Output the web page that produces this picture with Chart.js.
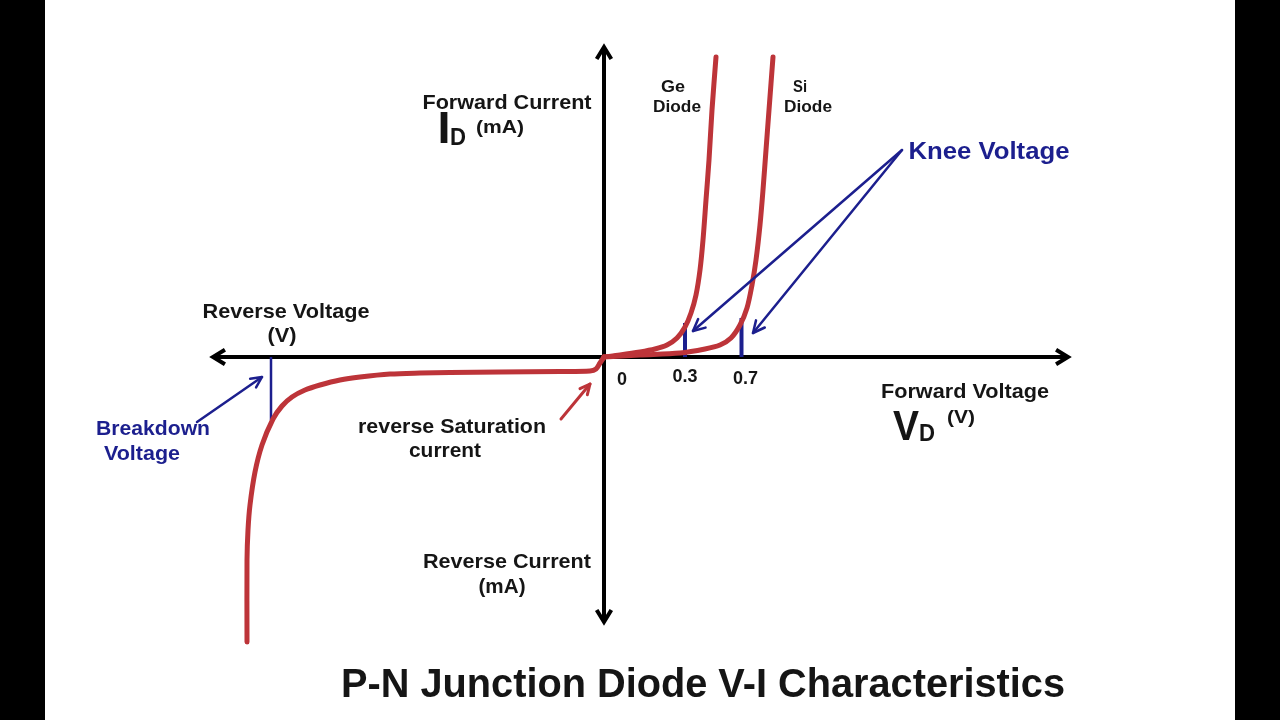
<!DOCTYPE html>
<html><head><meta charset="utf-8">
<script src="https://cdn.jsdelivr.net/npm/chart.js@4/dist/chart.umd.min.js"></script>
<style>html,body{margin:0;padding:0;background:#fff;overflow:hidden}canvas{display:block}</style>
</head><body>
<canvas id="c" width="1280" height="720"></canvas>
<script>
// Schematic units (1 unit = 10 px on this drawing), origin at the axes crossing
const reverseV = [0, -0.4, -0.8, -1.4, -4.4, -10.4, -15.4, -18.4, -21.4, -24.4, -26.4, -28.4, -29.9, -31.2, -32.2, -33.1, -34.2, -34.9, -35.4, -35.6, -35.7, -35.7];
const reverseI = [0, -0.6, -1.2, -1.4, -1.45, -1.5, -1.55, -1.6, -1.7, -2.0, -2.3, -2.8, -3.3, -4.0, -4.9, -6.2, -8.8, -11.5, -14.8, -17.3, -20.3, -28.5];
const geV = [0, 1.6, 3.6, 5.1, 6.3, 7.3, 8.1, 8.7, 9.2, 9.6, 9.9, 10.2, 10.5, 10.8, 11.2];
const geI = [0, 0.2, 0.5, 0.8, 1.2, 1.9, 3.0, 4.4, 6.2, 8.7, 11.7, 15.7, 19.7, 24.7, 30.0];
const siV = [0, 3.6, 7.6, 10.1, 11.6, 12.7, 13.6, 14.3, 14.8, 15.2, 15.6, 15.9, 16.2, 16.5, 16.9];
const siI = [0, 0.2, 0.4, 0.8, 1.2, 1.9, 3.2, 4.9, 7.2, 9.7, 13.2, 16.7, 20.7, 24.7, 30.0];
const kneePos = [8.1, 13.75];
const kneeTop = [3.4, 3.9];
const breakdownPos = -33.3;
const breakdownBottom = -6.3;
const tickLabels = ['0', '0.3', '0.7'];
const tickPos = [0, 8.1, 13.75];

const RED = '#bd3439', BLUE = '#1c1f8e', INK = '#151515';
const FONT = '"Liberation Sans", Arial, sans-serif';

function pts(xs, ys) { return xs.map((x, i) => ({ x, y: ys[i] })); }

const datasets = [
  { data: pts(reverseV, reverseI), borderColor: RED, borderWidth: 5, tension: 0.3, showLine: true, pointRadius: 0, borderCapStyle: 'round' },
  { data: pts(geV, geI), borderColor: RED, borderWidth: 5, tension: 0.3, showLine: true, pointRadius: 0, borderCapStyle: 'round' },
  { data: pts(siV, siI), borderColor: RED, borderWidth: 5, tension: 0.3, showLine: true, pointRadius: 0, borderCapStyle: 'round' },
];
kneePos.forEach((k, i) => datasets.push({ data: [{ x: k, y: 0 }, { x: k, y: kneeTop[i] }], borderColor: BLUE, borderWidth: 4, showLine: true, pointRadius: 0 }));
datasets.push({ data: [{ x: breakdownPos, y: 0 }, { x: breakdownPos, y: breakdownBottom }], borderColor: BLUE, borderWidth: 2.5, showLine: true, pointRadius: 0 });

function fitText(ctx, txt, cx, cy, w, size, color, family) {
  ctx.font = 'bold ' + size + 'px ' + (family || FONT);
  const m = ctx.measureText(txt).width;
  const sx = w ? w / m : 1;
  ctx.save(); ctx.translate(cx, cy); ctx.scale(sx, 1);
  ctx.textAlign = 'center'; ctx.textBaseline = 'middle'; ctx.fillStyle = color;
  ctx.fillText(txt, 0, 0); ctx.restore();
}
function head(ctx, x1, y1, x2, y2, len, spread) {
  const a = Math.atan2(y2 - y1, x2 - x1);
  ctx.beginPath();
  ctx.moveTo(x2 - len * Math.cos(a - spread), y2 - len * Math.sin(a - spread));
  ctx.lineTo(x2, y2);
  ctx.lineTo(x2 - len * Math.cos(a + spread), y2 - len * Math.sin(a + spread));
  ctx.stroke();
}
function arrow(ctx, x1, y1, x2, y2, color, w, len) {
  ctx.save(); ctx.strokeStyle = color; ctx.lineWidth = w; ctx.lineCap = 'round'; ctx.lineJoin = 'round';
  ctx.beginPath(); ctx.moveTo(x1, y1); ctx.lineTo(x2, y2); ctx.stroke();
  head(ctx, x1, y1, x2, y2, len, 0.45);
  ctx.restore();
}

const deco = {
  id: 'deco',
  beforeDraw(chart) {
    const ctx = chart.ctx;
    ctx.save(); ctx.fillStyle = '#fff'; ctx.fillRect(0, 0, 1280, 720);
    ctx.fillStyle = '#000'; ctx.fillRect(0, 0, 45, 720); ctx.fillRect(1235, 0, 45, 720); ctx.restore();
  },
  beforeDatasetsDraw(chart) {
    const ctx = chart.ctx, xs = chart.scales.x, ys = chart.scales.y;
    const ox = xs.getPixelForValue(0), oy = ys.getPixelForValue(0);
    const L = xs.getPixelForValue(-39.1), R = xs.getPixelForValue(46.4);
    const T = ys.getPixelForValue(31.0), B = ys.getPixelForValue(-26.5);
    ctx.save(); ctx.strokeStyle = '#000'; ctx.lineWidth = 4; ctx.lineCap = 'butt';
    ctx.beginPath(); ctx.moveTo(L + 2, oy); ctx.lineTo(R - 2, oy); ctx.stroke();
    ctx.beginPath(); ctx.moveTo(ox, T + 2); ctx.lineTo(ox, B - 2); ctx.stroke();
    ctx.lineWidth = 4; ctx.lineJoin = 'miter';
    head(ctx, ox, oy, R, oy, 14, 0.55);
    head(ctx, ox, oy, L, oy, 14, 0.55);
    head(ctx, ox, oy, ox, T, 14, 0.55);
    head(ctx, ox, oy, ox, B, 14, 0.55);
    ctx.restore();
  },
  afterDatasetsDraw(chart) {
    const ctx = chart.ctx, xs = chart.scales.x, ys = chart.scales.y;
    const px = v => xs.getPixelForValue(v), py = v => ys.getPixelForValue(v);
    // arrows
    arrow(ctx, px(29.8), py(20.7), px(8.9), py(2.6), BLUE, 2.5, 13);
    arrow(ctx, px(29.8), py(20.7), px(14.9), py(2.4), BLUE, 2.5, 13);
    arrow(ctx, px(-40.7), py(-6.5), px(-34.2), py(-2.0), BLUE, 2.5, 12);
    arrow(ctx, px(-4.3), py(-6.2), px(-1.4), py(-2.7), RED, 3, 11);
    // tick labels
    const offs = [18, 0, 4], dy = [23, 20, 22];
    tickLabels.forEach((t, i) => fitText(ctx, t, px(tickPos[i]) + offs[i], py(0) + dy[i], 0, 18, INK));
    // texts
    fitText(ctx, 'Forward Current', 507, 103, 169, 20.5, INK);
    fitText(ctx, 'I', 444, 131, 13, 45, INK);
    fitText(ctx, 'D', 458, 139, 16, 23, INK);
    fitText(ctx, '(mA)', 500, 128, 48, 19, INK);
    fitText(ctx, 'Ge', 673, 88, 24, 16, INK);
    fitText(ctx, 'Diode', 677, 108, 48, 16, INK);
    fitText(ctx, 'Si', 800, 88, 14, 16, INK);
    fitText(ctx, 'Diode', 808, 108, 48, 16, INK);
    fitText(ctx, 'Knee Voltage', 989, 153, 161, 23.5, BLUE);
    fitText(ctx, 'Reverse Voltage', 286, 312, 167, 20.5, INK);
    fitText(ctx, '(V)', 282, 336, 29, 20, INK);
    fitText(ctx, 'Forward Voltage', 965, 392, 168, 20.5, INK);
    fitText(ctx, 'V', 906, 428, 26, 42, INK);
    fitText(ctx, 'D', 927, 435, 16, 23, INK);
    fitText(ctx, '(V)', 961, 418, 28, 18, INK);
    fitText(ctx, 'Breakdown', 153, 429, 114, 20.5, BLUE);
    fitText(ctx, 'Voltage', 142, 454, 76, 20.5, BLUE);
    fitText(ctx, 'reverse Saturation', 452, 427, 188, 20.5, INK);
    fitText(ctx, 'current', 445, 451, 72, 20.5, INK);
    fitText(ctx, 'Reverse Current', 507, 562, 168, 20.5, INK);
    fitText(ctx, '(mA)', 502, 587, 47, 20, INK);
    fitText(ctx, 'P-N Junction Diode V-I Characteristics', 703, 686, 724, 40, INK, '"Liberation Sans Narrow", "Liberation Sans", Arial, sans-serif');
  }
};

new Chart(document.getElementById('c'), {
  type: 'scatter',
  data: { datasets },
  options: {
    responsive: false, animation: false, events: [],
    layout: { padding: 0 },
    plugins: { legend: { display: false }, tooltip: { enabled: false } },
    scales: {
      x: { type: 'linear', min: -60.4, max: 67.6, display: false },
      y: { type: 'linear', min: -36.3, max: 35.7, display: false }
    }
  },
  plugins: [deco]
});
</script>
</body></html>
